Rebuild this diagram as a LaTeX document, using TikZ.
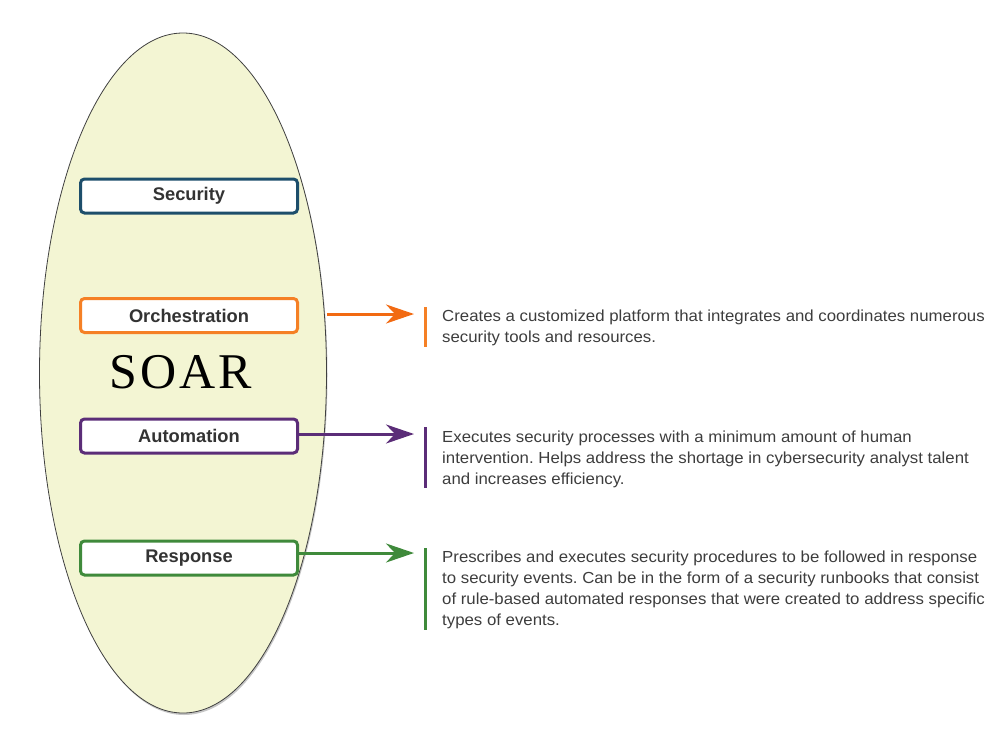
\documentclass[tikz,border=0pt]{standalone}
\usepackage{fontspec}
\setmainfont{Liberation Sans}
\newfontfamily\soarfont{Liberation Serif}
\newfontfamily\descfont[FakeStretch=1.05]{Liberation Sans}
\frenchspacing
\usepackage{tikz}
\usetikzlibrary{arrows.meta,shapes.geometric,shadows}
\definecolor{secblue}{HTML}{1D4E6B}
\definecolor{orchorange}{HTML}{F58025}
\definecolor{arroworange}{HTML}{F26A12}
\definecolor{autopurple}{HTML}{5B2D78}
\definecolor{respgreen}{HTML}{3F8A3B}
\definecolor{soarfill}{HTML}{F3F5D3}
\definecolor{labelgrey}{HTML}{333333}
\definecolor{descgrey}{HTML}{3D3D3D}
\tikzset{
  boxnode/.style = {draw, rounded corners=4pt, line width=3pt, fill=white,
    minimum width=217pt, minimum height=34pt, inner sep=0pt,
    font=\bfseries\fontsize{18.3}{20}\selectfont, text=labelgrey},
  box_sec/.style = {boxnode, draw=secblue},% security
  box_orch/.style = {boxnode, draw=orchorange},% orchestration
  box_auto/.style = {boxnode, draw=autopurple},% automation
  box_resp/.style = {boxnode, draw=respgreen},% response
  descnode/.style = {anchor=north west, align=left, inner sep=0pt,
    font=\descfont\fontsize{16}{21}\selectfont, text=descgrey},
  barline/.style = {line width=3pt}
}
\begin{document}
\begin{tikzpicture}[x=1pt,y=-1pt,->,>={Stealth[length=28pt,width=19pt,inset=9pt]}]
\useasboundingbox (0,0) rectangle (1008,742);
% the big ellipse
\node [ellipse, draw=black!75, line width=0.8pt, fill=soarfill,
  minimum width=287pt, minimum height=680pt, inner sep=0pt,
  drop shadow={shadow xshift=1pt, shadow yshift=-2pt, opacity=0.45}]
  (soar) at (183,373) {};
\node [font=\soarfont\fontsize{50}{50}\selectfont] (title) at (181,372)
  {S\kern3pt O\kern3pt A\kern3pt R};
% the four boxes
\node [box_sec] (sec) at (189,196) {Security};
\node [box_orch] (orch) at (189,315.5) {Orchestration};
\node [box_auto] (auto) at (189,436) {Automation};
\node [box_resp] (resp) at (189,558) {Response};
% arrow ends
\coordinate (tip) at (414,0);
\draw [arroworange, line width=3pt] ([yshift=1.5pt]orch.east -| soar.east)
  -- ([yshift=1.5pt]orch.east -| tip);
\draw [autopurple, line width=3pt] ([yshift=2pt]auto.east)
  -- ([yshift=2pt]auto.east -| tip);
\draw [respgreen, line width=3pt] ([yshift=5pt]resp.east)
  -- ([yshift=5pt]resp.east -| tip);
% bars
\draw [-, barline, orchorange] (425,307) -- (425,347);
\draw [-, barline, autopurple] (425,427) -- (425,488);
\draw [-, barline, respgreen] (425,548) -- (425,630);
% descriptions
\node [descnode] (orch_desc) at (442,310)
  {Creates a customized platform that integrates and coordinates numerous\\
   security tools and resources.};
\node [descnode] (auto_desc) at (442,431)
  {Executes security processes with a minimum amount of human\\
   intervention. Helps address the shortage in cybersecurity analyst talent\\
   and increases efficiency.};
\node [descnode] (resp_desc) at (442,551)
  {Prescribes and executes security procedures to be followed in response\\
   to security events. Can be in the form of a security runbooks that consist\\
   of rule-based automated responses that were created to address specific\\
   types of events.};
\end{tikzpicture}
\end{document}
